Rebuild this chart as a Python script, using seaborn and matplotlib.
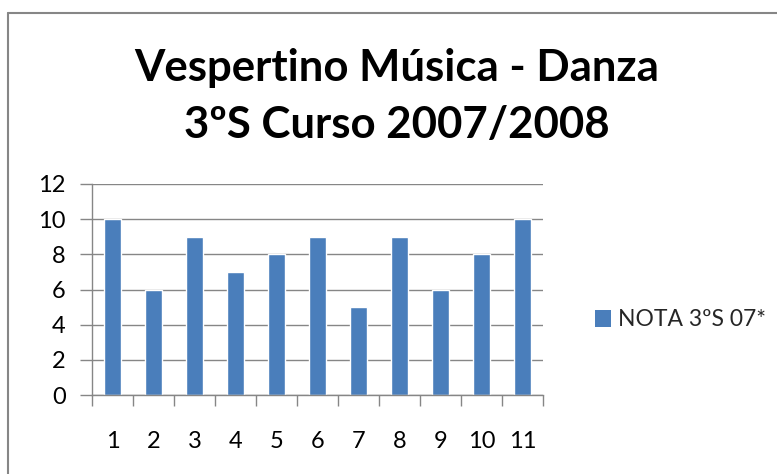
import matplotlib
matplotlib.use("Agg")
import matplotlib.pyplot as plt
import seaborn as sns
import pandas as pd
import numpy as np
from matplotlib.lines import Line2D
from matplotlib.patches import Patch

categories = ["1", "2", "3", "4", "5", "6", "7", "8", "9", "10", "11"]
values = [10, 6, 9, 7, 8, 9, 5, 9, 6, 8, 10]
series_name = "NOTA 3ºS 07*"
title_lines = ["Vespertino Música - Danza", "3ºS Curso 2007/2008"]
yticks = [0, 2, 4, 6, 8, 10, 12]

sns.set_theme(style="white")
plt.rcParams['font.family'] = ['Lato', 'DejaVu Sans']

W, H = 777, 474
fig = plt.figure(figsize=(W / 100, H / 100), dpi=100)
fig.patch.set_facecolor("white")

left, right, top, bottom = 92, 543, 184, 395
ax = fig.add_axes([left / W, 1 - bottom / H, (right - left) / W, (bottom - top) / H])

df = pd.DataFrame({"cat": categories, "val": values})
color = "#4a7ebb"
sns.barplot(data=df, x="cat", y="val", color=color, saturation=1, width=0.4, ax=ax)
ax.set_xlim(-0.5, len(categories) - 0.5)
ax.set_ylim(0, 12)
ax.set_yticks(yticks)
ax.set_yticklabels([str(t) for t in yticks])
ax.set_xlabel("")
ax.set_ylabel("")
ax.grid(axis="y", color="#868686", linewidth=1)
ax.set_axisbelow(True)
for s in ["top", "right"]:
    ax.spines[s].set_visible(False)
for s in ["left", "bottom"]:
    ax.spines[s].set_color("#868686")
    ax.spines[s].set_linewidth(1)
ax.set_xticks(np.arange(-0.5, len(categories), 1), minor=True)
ax.tick_params(axis="x", which="minor", length=8, color="#868686", width=1, direction="out")
ax.tick_params(axis="x", which="major", length=0, pad=26, labelsize=17, labelcolor="#000000")
ax.tick_params(axis="y", length=9, color="#868686", width=1, direction="out", pad=10,
               labelsize=17, labelcolor="#000000")
ax.yaxis.set_ticks_position("left")
ax.xaxis.set_ticks_position("bottom")

fig.text(397 / W, 1 - 68 / H, title_lines[0], ha="center", va="center",
         fontsize=31.5, fontweight="bold", color="#000000")
fig.text(397 / W, 1 - 125 / H, title_lines[1], ha="center", va="center",
         fontsize=31.5, fontweight="bold", color="#000000")

handle = Patch(facecolor=color, edgecolor="none")
fig.legend([handle], [series_name], loc="center left", bbox_to_anchor=(574 / W, 1 - 320 / H),
           frameon=False, fontsize=16.5, handlelength=0.7, handleheight=0.7, handletextpad=0.3)

fig.add_artist(Line2D([8 / W, 8 / W], [0, 1 - 13 / H], transform=fig.transFigure, color="#868686", linewidth=1.5))
fig.add_artist(Line2D([8 / W, 1], [1 - 13 / H, 1 - 13 / H], transform=fig.transFigure, color="#868686", linewidth=1.5))

fig.savefig("out.png", dpi=100)
